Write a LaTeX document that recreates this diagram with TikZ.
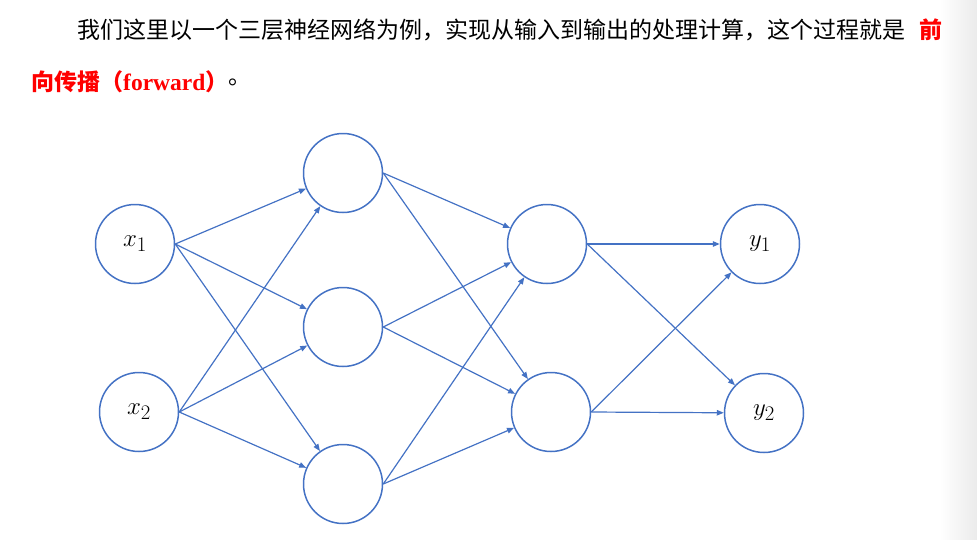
\documentclass[tikz,border=0pt]{standalone}
\usepackage{fontspec}
\setmainfont{Liberation Serif}
\newfontfamily\cjk{Noto Sans CJK SC}
\usetikzlibrary{arrows.meta}
\definecolor{lineblue}{RGB}{68,114,196}
\definecolor{redtxt}{RGB}{255,0,0}
\begin{document}
\begin{tikzpicture}[x=1pt,y=-1pt,
  neuron/.style={circle,draw=lineblue,line width=1.5pt,minimum size=79pt,inner sep=0pt,font=\fontsize{29}{32}\selectfont},
  conn/.style={draw=lineblue,line width=1.2pt,-{Triangle[length=7pt,width=5.5pt]}},
  body/.style={inner sep=0pt,anchor=west,font=\cjk\fontsize{23}{26}\selectfont},
  redbody/.style={body,text=redtxt,font=\cjk\bfseries\fontsize{23}{26}\selectfont}]
\useasboundingbox (0,0) rectangle (977,539);
\shade[left color=white,right color=black!8] (940,0) rectangle (977,539);
% text
\node[body] (t1) at (77,30) {我们这里以一个三层神经网络为例，实现从输入到输出的处理计算，这个过程就是};
\node[redbody] (t2) at (919,30) {前};
\node[redbody] (t3) at (31,82) {向传播（\textrm{\bfseries\fontsize{23.5}{26}\selectfont forward}）};
\node[body] (t4) at (t3.east) {。};
% neurons
\node[neuron] (i1) at (135,244) {$x_1$};
\node[neuron] (i2) at (139,412) {$x_2$};
\node[neuron] (h1) at (343,173) {};
\node[neuron] (h2) at (343,327) {};
\node[neuron] (h3) at (343,484) {};
\node[neuron] (m1) at (547,244) {};
\node[neuron] (m2) at (551,412) {};
\node[neuron] (o1) at (760,244) {$y_1$};
\node[neuron] (o2) at (764,413) {$y_2$};
% connections
\foreach \s in {i1,i2}
  \foreach \t in {h1,h2,h3}
    \draw[conn] (\s.east) -- (\t);
\foreach \s in {h1,h2,h3}
  \foreach \t in {m1,m2}
    \draw[conn] (\s.east) -- (\t);
\foreach \s in {m1,m2}
  \foreach \t in {o1,o2}
    \draw[conn] (\s.east) -- (\t);
\end{tikzpicture}
\end{document}
